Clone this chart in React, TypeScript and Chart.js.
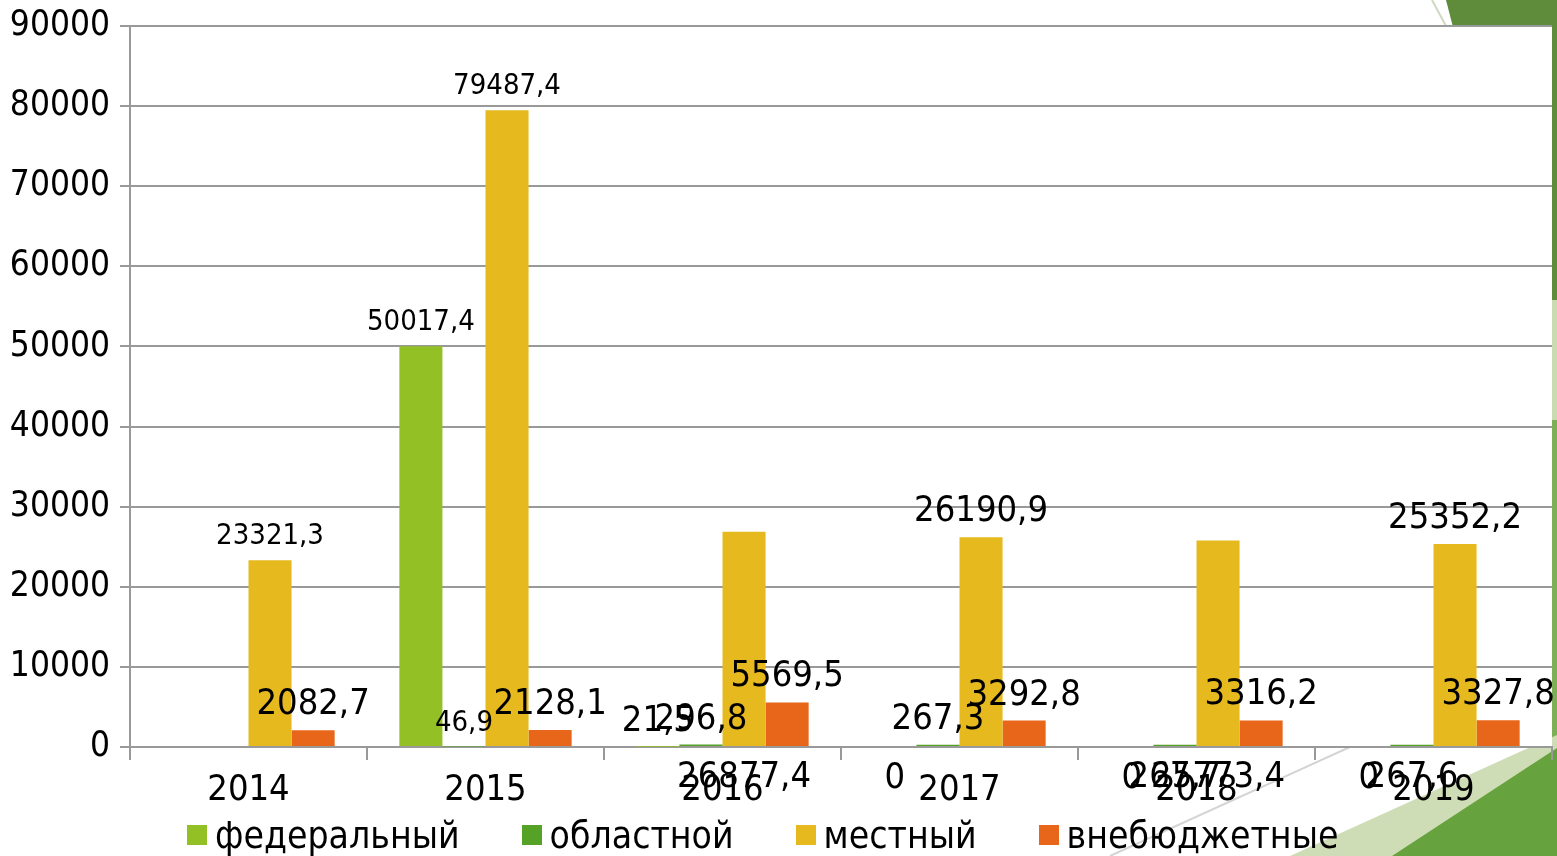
import React, { useEffect, useRef } from "react";
import { Chart, registerables } from "chart.js";
Chart.register(...registerables);

const categories = ["2014", "2015", "2016", "2017", "2018", "2019"];
const seriesNames = ["федеральный", "областной", "местный", "внебюджетные"];
const federal = [null, 50017.4, 21.5, 0, 0, 0];
const regional = [null, 46.9, 296.8, 267.3, 267.7, 267.6];
const local = [23321.3, 79487.4, 26877.4, 26190.9, 25773.4, 25352.2];
const offBudget = [2082.7, 2128.1, 5569.5, 3292.8, 3316.2, 3327.8];
const yTicks = [0, 10000, 20000, 30000, 40000, 50000, 60000, 70000, 80000, 90000];

const colors = ["#93C125", "#56A227", "#E6B91F", "#E8661A"];
const FONT = "'DejaVu Sans Condensed', 'DejaVu Sans', sans-serif";
const LARGE = 36;
const SMALL = 29;
// label placement flags [datasetIndex, categoryIndex]
const smallLabels = [[2, 0], [0, 1], [1, 1], [2, 1]];
const belowLabels = [[2, 2], [0, 3], [0, 4], [1, 4], [2, 4], [0, 5], [1, 5]];
const has = (list: number[][], d: number, i: number) => list.some((p) => p[0] === d && p[1] === i);

const fmt = (v: number) => String(v).replace(".", ",");

const bgPlugin = {
  id: "plotBg",
  beforeDraw(chart: any) {
    const { ctx, chartArea } = chart;
    ctx.save();
    ctx.fillStyle = "#ffffff";
    ctx.fillRect(chartArea.left, chartArea.top, chartArea.right - chartArea.left, chartArea.bottom - chartArea.top);
    ctx.restore();
  },
};

const labelPlugin = {
  id: "valueLabels",
  afterDatasetsDraw(chart: any) {
    const { ctx } = chart;
    ctx.save();
    ctx.fillStyle = "#000";
    ctx.textAlign = "center";
    ctx.textBaseline = "alphabetic";
    chart.data.datasets.forEach((ds: any, d: number) => {
      const meta = chart.getDatasetMeta(d);
      meta.data.forEach((bar: any, i: number) => {
        const v = ds.data[i];
        if (v === null || v === undefined) return;
        const size = has(smallLabels, d, i) ? SMALL : LARGE;
        ctx.font = `${size}px ${FONT}`;
        const y = has(belowLabels, d, i) ? bar.base + 41 : bar.y - 16;
        ctx.fillText(fmt(v), bar.x, y);
      });
    });
    ctx.restore();
  },
};

function Decorations() {
  return (
    <svg width={1557} height={856} style={{ position: "absolute", left: 0, top: 0 }}>
      <polygon points="1446,0 1557,0 1557,430" fill="#5E8C3A" />
      <line x1="1432" y1="0" x2="1446" y2="26" stroke="#cfd8c4" strokeWidth="2" />
      <polygon points="1552,300 1557,300 1557,760 1552,760" fill="#CADBB2" />
      <polygon points="1557,420 1557,760 1552,760 1552,420" fill="#7DAF56" />
      <polygon points="1290,856 1557,735 1557,856" fill="#CFDDB6" />
      <polygon points="1392,856 1557,748 1557,856" fill="#66A23D" />
      <line x1="1110" y1="856" x2="1350" y2="747" stroke="#d4d4d4" strokeWidth="2" />
    </svg>
  );
}

function Legend() {
  return (
    <div
      style={{
        position: "absolute",
        left: 187,
        top: 812,
        height: 46,
        display: "flex",
        alignItems: "center",
        gap: 62,
        fontFamily: FONT,
        fontSize: 37,
        color: "#000",
        whiteSpace: "nowrap",
      }}
    >
      {seriesNames.map((name, k) => (
        <div key={name} style={{ display: "flex", alignItems: "center" }}>
          <span style={{ display: "inline-block", width: 20, height: 20, background: colors[k], marginRight: 8 }} />
          <span>{name}</span>
        </div>
      ))}
    </div>
  );
}

export default function App() {
  const ref = useRef<HTMLCanvasElement | null>(null);
  useEffect(() => {
    document.body.style.margin = "0";
    const data = [federal, regional, local, offBudget];
    const chart = new Chart(ref.current as HTMLCanvasElement, {
      type: "bar",
      data: {
        labels: categories,
        datasets: seriesNames.map((name, k) => ({
          label: name,
          data: data[k] as any,
          backgroundColor: colors[k],
          borderWidth: 0,
          barPercentage: 1,
          categoryPercentage: 0.727,
        })),
      },
      options: {
        responsive: false,
        animation: false,
        layout: { padding: { top: 26, right: 5, left: 0, bottom: 47 } },
        scales: {
          x: {
            afterFit: (s: any) => { s.height = 62; s.paddingLeft = 0; s.paddingRight = 0; },
            grid: { drawOnChartArea: false, drawTicks: true, tickLength: 13, color: "#999", lineWidth: 2, offset: true },
            border: { color: "#999", width: 2 },
            ticks: { color: "#000", font: { family: FONT, size: 36 }, padding: 9, maxRotation: 0 },
          },
          y: {
            min: 0,
            max: 90000,
            afterFit: (s: any) => { s.width = 130; s.paddingTop = 0; s.paddingBottom = 0; },
            afterBuildTicks: (s: any) => { s.ticks = yTicks.map((v) => ({ value: v })); },
            grid: { color: "#999", lineWidth: 2, tickLength: 10 },
            border: { color: "#999", width: 2 },
            ticks: {
              color: "#000",
              font: { family: FONT, size: 35 },
              padding: 10,
              callback: (v: any) => String(v),
            },
          },
        },
        plugins: {
          legend: { display: false },
          tooltip: { enabled: false },
        },
      },
      plugins: [bgPlugin, labelPlugin],
    });
    return () => chart.destroy();
  }, []);
  return (
    <div style={{ position: "relative", width: 1557, height: 856, overflow: "hidden", background: "#fff" }}>
      <Decorations />
      <canvas ref={ref} width={1557} height={856} style={{ position: "absolute", left: 0, top: 0 }} />
      <Legend />
    </div>
  );
}
